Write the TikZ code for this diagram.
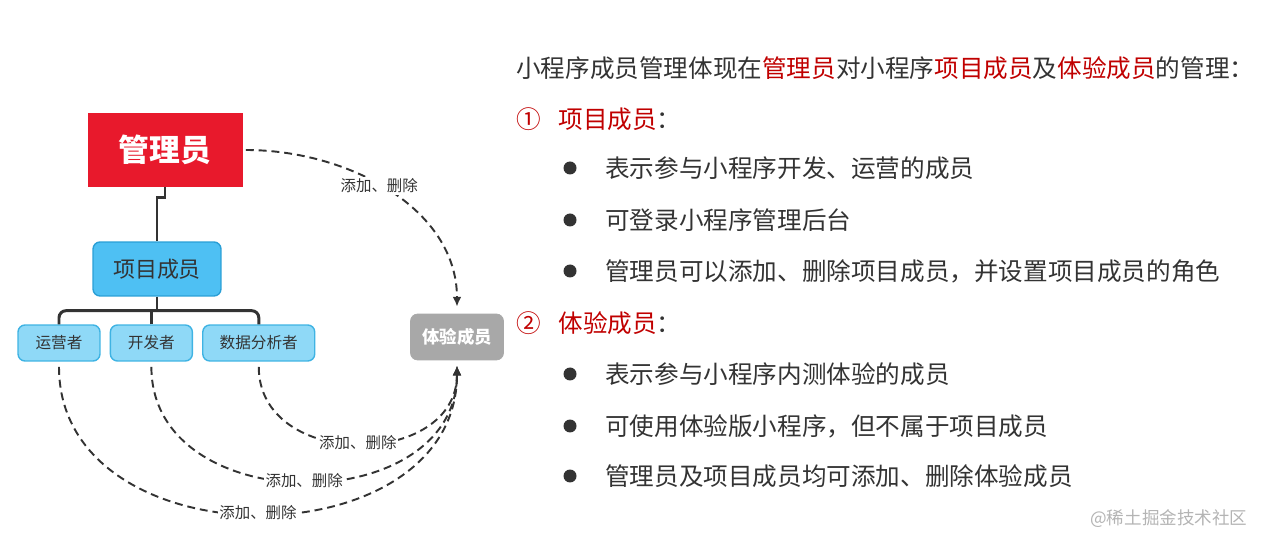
\documentclass[tikz,border=0pt]{standalone}
\usepackage{fontspec}
\setmainfont{Noto Sans CJK SC}
\usepackage{xcolor}
\definecolor{ink}{HTML}{333333}
\definecolor{accent}{HTML}{C00000}
\definecolor{adminred}{HTML}{E8192C}
\definecolor{memberblue}{HTML}{4EC0F3}
\definecolor{memberedge}{HTML}{2A9FD6}
\definecolor{roleblue}{HTML}{8FD9F7}
\definecolor{roleedge}{HTML}{3FB3E3}
\definecolor{trialgray}{HTML}{A8A8A8}
\definecolor{mark}{HTML}{B4B4B4}
\usepackage{tikz}
\usetikzlibrary{arrows.meta,positioning}

\begin{document}
\begin{tikzpicture}[
    x=0.02cm, y=-0.02cm,
    every node/.style={text=ink},
    admin_box/.style={fill=adminred, draw=adminred, minimum width=3.08cm, minimum height=1.46cm, inner sep=0pt, font=\fontsize{17.5}{19}\selectfont\bfseries, text=white},
    member_box/.style={fill=memberblue, draw=memberedge, line width=0.8pt, rounded corners=4pt, minimum width=2.56cm, minimum height=1.08cm, inner sep=0pt, font=\fontsize{12.5}{14}\selectfont},
    role_box/.style={fill=roleblue, draw=roleedge, line width=0.8pt, rounded corners=4pt, minimum height=0.72cm, inner sep=0pt, font=\fontsize{8.9}{10}\selectfont},
    trial_box/.style={fill=trialgray, draw=trialgray, rounded corners=4pt, minimum width=1.86cm, minimum height=0.92cm, inner sep=0pt, font=\fontsize{9.9}{11}\selectfont\bfseries, text=white},
    tree_line/.style={line width=1.7pt, draw=ink},
    link_arrow/.style={-{Latex[length=5.5pt,width=5pt]}, dash pattern=on 4.5pt off 2.8pt, line width=1.1pt, draw=ink},
    op_label/.style={fill=white, inner sep=1pt, font=\fontsize{8.8}{10}\selectfont},
    line_text/.style={anchor=west, inner sep=0pt, font=\fontsize{14}{16}\selectfont},
    dot/.style={circle, fill=ink, minimum size=0.26cm, inner sep=0pt}
]
  \useasboundingbox (0,0) rectangle (1266,546);

  % Left: member tree
  \node[admin_box] (box_admin) at (165,150) {管理员};
  \node[member_box] (box_member) at (157,269) {项目成员};
  \node[role_box, minimum width=1.64cm] (box_ops) at (59,343) {运营者};
  \node[role_box, minimum width=1.64cm, right=0.18cm of box_ops] (box_dev) {开发者};
  \node[role_box, minimum width=2.24cm, right=0.18cm of box_dev] (box_data) {数据分析者};
  \node[trial_box] (box_trial) at (457,337) {体验成员};

  \draw[tree_line] (box_admin.south) -- ++(0,11) -| (box_member.north);
  \draw[tree_line] (box_member.south) -- ++(0,14) coordinate (bar);
  \draw[tree_line, rounded corners=4pt] (box_ops.north) |- (bar) -| (box_data.north);
  \draw[tree_line] (box_dev.north) -- (box_dev.north |- bar);

  % Add / remove links towards the trial members
  \draw[link_arrow, shorten <=2pt, shorten >=4pt] (box_admin.east) to[out=0, in=90]
    node[op_label, pos=0.46] {添加、删除} (box_trial.north);
  \draw[link_arrow, shorten <=3pt, shorten >=3pt] (box_data.south) to[out=-90, in=-90, looseness=1.4]
    node[op_label] {添加、删除} (box_trial.south);
  \draw[link_arrow, shorten <=3pt, shorten >=3pt] (box_dev.south) to[out=-90, in=-90, looseness=1.33]
    node[op_label] {添加、删除} (box_trial.south);
  \draw[link_arrow, shorten <=3pt, shorten >=3pt] (box_ops.south) to[out=-90, in=-90, looseness=1.3]
    node[op_label] {添加、删除} (box_trial.south);

  % Right: explanation text
  \node[line_text] (txt_intro) at (516,68) {小程序成员管理体现在{\color{accent}管理员}对小程序{\color{accent}项目成员}及{\color{accent}体验成员}的管理：};

  \node[line_text] (txt_head1) at (516,119) {{\color{accent}①\hspace{10pt}项目成员}：};
  \node[dot] (dot_a1) at (570,168) {};
  \node[line_text] (txt_a1) at (605,168) {表示参与小程序开发、运营的成员};
  \node[dot] (dot_a2) at (570,220) {};
  \node[line_text] (txt_a2) at (605,220) {可登录小程序管理后台};
  \node[dot] (dot_a3) at (570,271) {};
  \node[line_text] (txt_a3) at (605,271) {管理员可以添加、删除项目成员，并设置项目成员的角色};

  \node[line_text] (txt_head2) at (516,323) {{\color{accent}②\hspace{10pt}体验成员}：};
  \node[dot] (dot_b1) at (570,374) {};
  \node[line_text] (txt_b1) at (605,374) {表示参与小程序内测体验的成员};
  \node[dot] (dot_b2) at (570,426) {};
  \node[line_text] (txt_b2) at (605,426) {可使用体验版小程序，但不属于项目成员};
  \node[dot] (dot_b3) at (570,476) {};
  \node[line_text] (txt_b3) at (605,476) {管理员及项目成员均可添加、删除体验成员};

  \node[anchor=west, inner sep=0pt, text=mark, font=\fontsize{10}{12}\selectfont] (txt_mark) at (1090,519) {@稀土掘金技术社区};

\end{tikzpicture}
\end{document}
